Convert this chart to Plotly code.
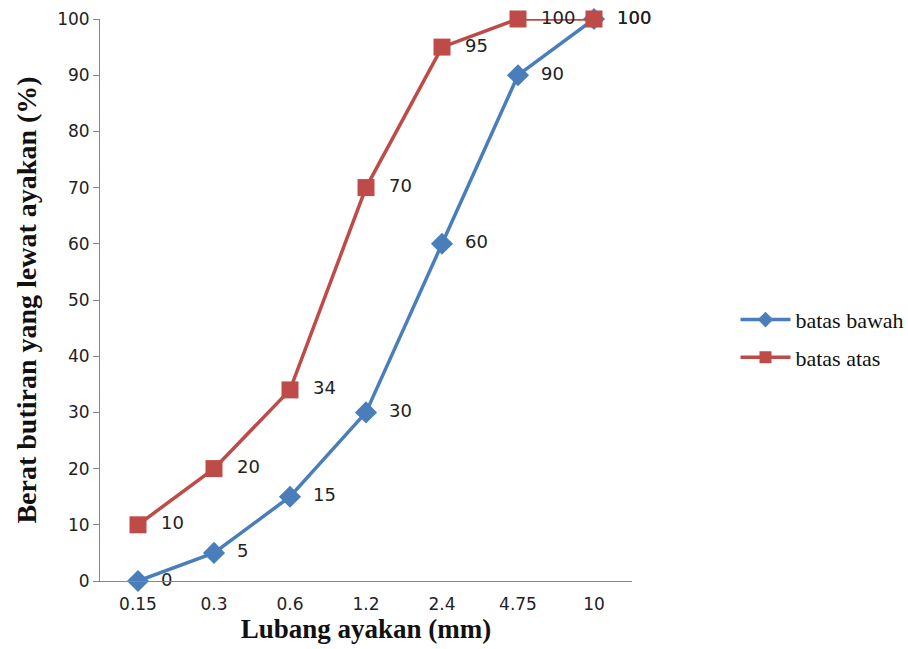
import plotly.graph_objects as go

categories = ["0.15", "0.3", "0.6", "1.2", "2.4", "4.75", "10"]
batas_bawah = [0, 5, 15, 30, 60, 90, 100]
batas_atas = [10, 20, 34, 70, 95, 100, 100]
y_ticks = [0, 10, 20, 30, 40, 50, 60, 70, 80, 90, 100]

blue = "#4A7EBB"
red = "#BE4B48"
label_font = dict(family="DejaVu Sans", size=18, color="#222222")
pad = "\u00a0\u00a0"

fig = go.Figure()
series = [("batas bawah", batas_bawah, blue, "diamond", 17),
          ("batas atas", batas_atas, red, "square", 17)]
for name, vals, col, sym, sz in series:
    fig.add_trace(go.Scatter(
        x=categories, y=vals, name=name, showlegend=False,
        mode="lines+markers+text",
        line=dict(color=col, width=3.5),
        marker=dict(symbol=sym, size=sz, color=col),
        text=[pad + str(v) for v in vals], textposition="middle right",
        textfont=label_font, cliponaxis=False,
    ))
for name, vals, col, sym, sz in series:
    fig.add_trace(go.Scatter(
        x=[None], y=[None], name=name, showlegend=True, legendgroup=name,
        mode="lines+markers",
        line=dict(color=col, width=3.5),
        marker=dict(symbol=sym, size=12, color=col),
    ))

fig.update_layout(
    width=908, height=649,
    margin=dict(l=100, r=276, t=19, b=68, autoexpand=False),
    paper_bgcolor="white", plot_bgcolor="white",
    showlegend=True,
    legend=dict(xref="container", yref="container",
                x=0.81, y=0.478, yanchor="middle", xanchor="left",
                font=dict(family="Liberation Serif", size=22, color="#111111"),
                tracegroupgap=6, itemwidth=50),
    xaxis=dict(
        type="category", range=[-0.5, 6.5], automargin=False,
        showline=True, linecolor="#878787", linewidth=1,
        showgrid=False, ticks="", zeroline=False, ticklabelstandoff=8,
        tickfont=dict(family="DejaVu Sans", size=17, color="#222222"),
        title=dict(text="<b>Lubang ayakan (mm)</b>", standoff=2,
                   font=dict(family="Liberation Serif", size=27, color="#111111")),
    ),
    yaxis=dict(
        range=[0, 100], tickvals=y_ticks, automargin=False,
        showline=True, linecolor="#878787", linewidth=1,
        showgrid=False, ticks="outside", ticklen=6, tickcolor="#878787",
        zeroline=False,
        tickfont=dict(family="DejaVu Sans", size=17, color="#222222"),
        title=dict(text="<b>Berat butiran yang lewat ayakan (%)</b>", standoff=12,
                   font=dict(family="Liberation Serif", size=28, color="#111111")),
    ),
)

fig.write_html("out.html")
